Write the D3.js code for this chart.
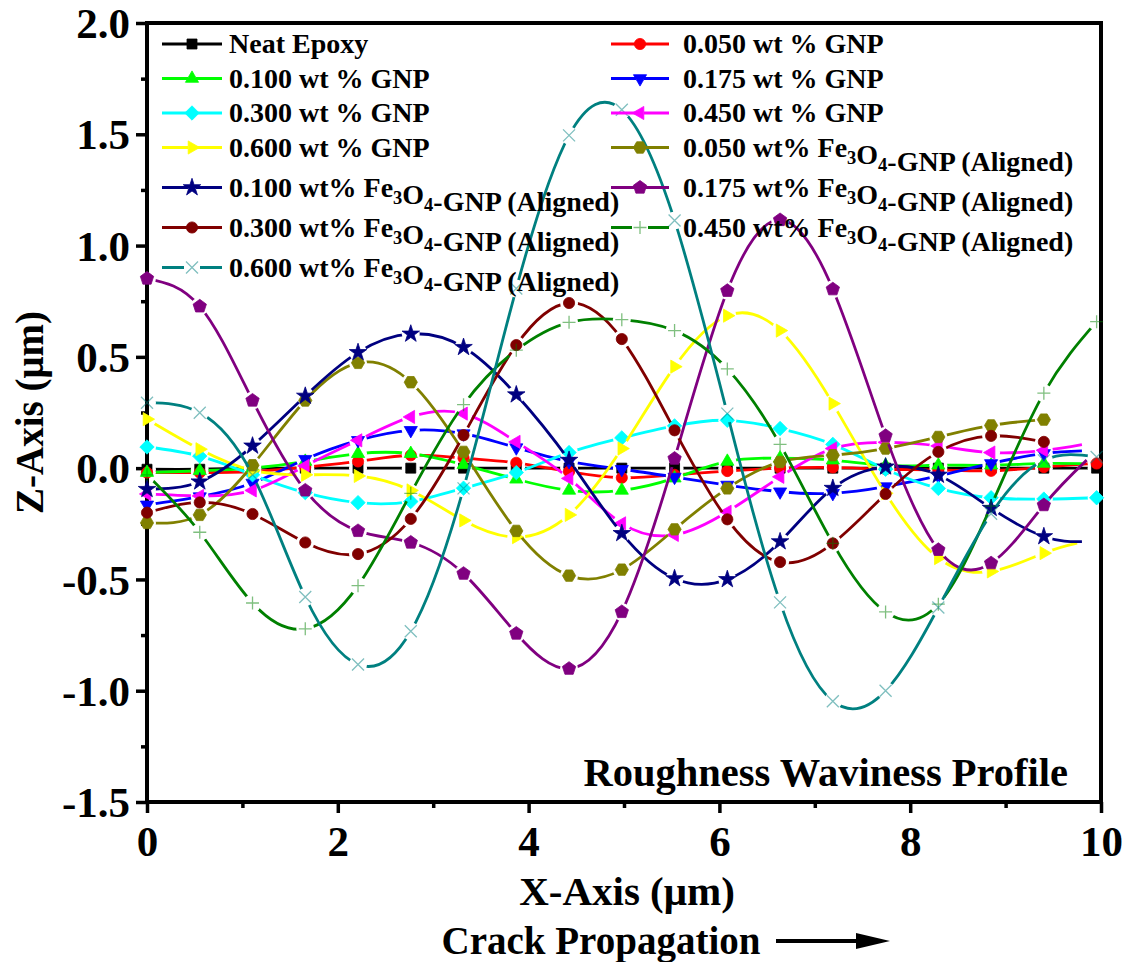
<!DOCTYPE html>
<html>
<head>
<meta charset="utf-8">
<script src="https://cdn.jsdelivr.net/npm/d3@7"></script>
<style>
  html, body { margin: 0; padding: 0; background: #fff; }
  svg { display: block; }
  text { font-family: "Liberation Serif", "Times New Roman", serif; font-weight: bold; fill: #000; }
</style>
</head>
<body>
<svg id="chart" width="1134" height="962"></svg>
<script>
// Sampling positions along the crack path (µm)
const xPositions = [0, 0.553, 1.106, 1.659, 2.212, 2.765, 3.318, 3.871, 4.424, 4.977,
                    5.53, 6.083, 6.636, 7.189, 7.742, 8.295, 8.848, 9.401, 9.954];

// Surface height Z (µm) at each sampling position
const neatEpoxy = [-0.005, -0.005, 0, 0, 0, 0, 0, 0, 0, 0, 0, 0, 0, 0, 0, 0, 0, 0, 0];
const gnp050 = [-0.02, -0.02, -0.015, 0.005, 0.03, 0.058, 0.045, 0.024, -0.016, -0.043,
                -0.03, -0.013, 0.0, 0.003, -0.005, -0.008, -0.012, 0.005, 0.021];
const gnp100 = [-0.02, -0.012, 0.0, 0.03, 0.065, 0.065, 0.015, -0.05, -0.1, -0.1,
                -0.045, 0.03, 0.045, 0.036, 0.012, 0.013, 0.013, 0.021];
const gnp175 = [-0.165, -0.128, -0.067, 0.04, 0.125, 0.17, 0.155, 0.092, 0.03, -0.005,
                -0.04, -0.076, -0.106, -0.113, -0.083, -0.035, 0.021, 0.066];
const gnp300 = [0.095, 0.054, -0.03, -0.11, -0.155, -0.15, -0.09, -0.02, 0.07, 0.136,
                0.19, 0.215, 0.178, 0.107, -0.005, -0.091, -0.133, -0.139, -0.133];
const gnp450 = [-0.116, -0.125, -0.1, 0.01, 0.125, 0.23, 0.245, 0.118, -0.046, -0.248,
                -0.3, -0.196, -0.039, 0.088, 0.116, 0.1, 0.07, 0.08];
const gnp600 = [0.22, 0.085, -0.01, -0.03, -0.035, -0.1, -0.235, -0.31, -0.21, 0.088,
                0.456, 0.685, 0.618, 0.29, -0.113, -0.404, -0.464, -0.382];
const feGnp050 = [-0.246, -0.21, 0.013, 0.304, 0.473, 0.386, 0.073, -0.282, -0.483, -0.456,
                  -0.275, -0.091, 0.028, 0.058, 0.088, 0.14, 0.192, 0.218];
const feGnp100 = [-0.095, -0.061, 0.1, 0.324, 0.52, 0.603, 0.543, 0.33, 0.036, -0.293,
                  -0.496, -0.5, -0.33, -0.09, 0.006, -0.031, -0.18, -0.307];
const feGnp175 = [0.852, 0.727, 0.304, -0.1, -0.282, -0.334, -0.474, -0.743, -0.901, -0.646,
                  0.043, 0.797, 1.115, 0.804, 0.145, -0.367, -0.427, -0.166];
const feGnp300 = [-0.2, -0.154, -0.206, -0.334, -0.386, -0.228, 0.148, 0.553, 0.742, 0.58,
                  0.17, -0.23, -0.422, -0.338, -0.116, 0.073, 0.145, 0.118];
const feGnp450 = [-0.03, -0.288, -0.606, -0.722, -0.528, -0.113, 0.285, 0.53, 0.655, 0.667,
                  0.618, 0.446, 0.107, -0.338, -0.646, -0.611, -0.17, 0.337, 0.658];
const feGnp600 = [0.294, 0.249, -0.03, -0.579, -0.882, -0.733, -0.091, 0.807, 1.495, 1.61,
                  1.113, 0.245, -0.603, -1.047, -1.0, -0.626, -0.205, 0.035, 0.05];

// Profiles continue a little past their last sampled point: [x, z]
const profileEnds = {
  gnp100: [9.8, 0.02],
  gnp175: [9.8, 0.078],
  gnp450: [9.8, 0.106],
  gnp600: [9.75, -0.337],
  feGnp100: [9.8, -0.33],
  feGnp175: [9.85, 0.036]
};

const seriesKeys = ["neatEpoxy", "gnp050", "gnp100", "gnp175", "gnp300", "gnp450", "gnp600",
                    "feGnp050", "feGnp100", "feGnp175", "feGnp300", "feGnp450", "feGnp600"];
const seriesValues = [neatEpoxy, gnp050, gnp100, gnp175, gnp300, gnp450, gnp600,
                      feGnp050, feGnp100, feGnp175, feGnp300, feGnp450, feGnp600];
const seriesLabels = ["Neat Epoxy", "0.050 wt % GNP", "0.100 wt % GNP", "0.175 wt % GNP",
                      "0.300 wt % GNP", "0.450 wt % GNP", "0.600 wt % GNP",
                      "0.050 wt% Fe_3O_4-GNP (Aligned)", "0.100 wt% Fe_3O_4-GNP (Aligned)",
                      "0.175 wt% Fe_3O_4-GNP (Aligned)", "0.300 wt% Fe_3O_4-GNP (Aligned)",
                      "0.450 wt% Fe_3O_4-GNP (Aligned)", "0.600 wt% Fe_3O_4-GNP (Aligned)"];
const seriesColors = ["#000000", "#ff0000", "#00ff00", "#0000ff", "#00ffff", "#ff00ff", "#ffff00",
                      "#808000", "#000080", "#800080", "#800000", "#008000", "#008080"];
const seriesSymbols = ["square", "circle", "triUp", "triDown", "diamond", "triLeft", "triRight",
                       "hexagon", "star", "pentagon", "circle", "plus", "cross"];

const xTicks = [0, 2, 4, 6, 8, 10];
const xMinorTicks = [1, 3, 5, 7, 9];
const yTicks = [-1.5, -1.0, -0.5, 0.0, 0.5, 1.0, 1.5, 2.0];
const yMinorTicks = [-1.25, -0.75, -0.25, 0.25, 0.75, 1.25, 1.75];

// ---------------------------------------------------------------
const svg = d3.select("#chart");
const W = 1134, H = 962;
const plot = { left: 147, right: 1101, top: 23, bottom: 802 };

const x = d3.scaleLinear().domain([0, 10]).range([plot.left, plot.right]);
const y = d3.scaleLinear().domain([-1.5, 2]).range([plot.bottom, plot.top]);

// Marker shapes
function polygon(n, r, rot) {
  const pts = d3.range(n).map(i => {
    const a = rot + i * 2 * Math.PI / n - Math.PI / 2;
    return [r * Math.cos(a), r * Math.sin(a)];
  });
  return "M" + pts.map(p => p[0].toFixed(2) + "," + p[1].toFixed(2)).join("L") + "Z";
}
const symbolPath = {
  square: `M-5,-5H5V5H-5Z`,
  circle: d3.symbol(d3.symbolCircle, Math.PI * 5.6 * 5.6)(),
  triUp: polygon(3, 7.6, 0),
  triDown: polygon(3, 7.6, Math.PI),
  triLeft: polygon(3, 7.6, -Math.PI / 2),
  triRight: polygon(3, 7.6, Math.PI / 2),
  diamond: polygon(4, 7.2, 0),
  hexagon: polygon(6, 6.6, Math.PI / 6),
  pentagon: polygon(5, 7.0, 0),
  star: d3.symbol(d3.symbolStar, 95)(),
  plus: "M-6.5,0H6.5M0,-6.5V6.5",
  cross: "M-6,-6L6,6M-6,6L6,-6"
};
const strokeSymbols = new Set(["plus", "cross"]);

function drawMarker(g, sym, color, cx, cy) {
  const p = g.append("path").attr("d", symbolPath[sym])
    .attr("transform", `translate(${cx},${cy})`);
  if (strokeSymbols.has(sym)) {
    p.attr("fill", "none").attr("stroke", color).attr("stroke-width", 1.3).attr("stroke-opacity", 0.5);
  } else {
    p.attr("fill", color).attr("stroke", color).attr("stroke-width", 0.8);
  }
}

// ---------------------------------------------------------------
// Axes and frame
const defs = svg.append("defs");
const fmtY = d => d3.format(".1f")(d).replace("\u2212", "-");

const yAxis = svg.append("g").attr("transform", `translate(${plot.left},0)`)
  .call(d3.axisLeft(y).tickValues(yTicks).tickSize(11).tickPadding(6).tickFormat(fmtY));
const yMinor = svg.append("g").attr("transform", `translate(${plot.left},0)`)
  .call(d3.axisLeft(y).tickValues(yMinorTicks).tickSize(6).tickFormat(""));
const xAxis = svg.append("g").attr("transform", `translate(0,${plot.bottom})`)
  .call(d3.axisBottom(x).tickValues(xTicks).tickSize(11).tickPadding(12)
        .tickFormat(d3.format("d")));
const xMinor = svg.append("g").attr("transform", `translate(0,${plot.bottom})`)
  .call(d3.axisBottom(x).tickValues(xMinorTicks).tickSize(6).tickFormat(""));

[yAxis, yMinor, xAxis, xMinor].forEach(g => {
  g.select(".domain").remove();
  g.selectAll(".tick line").attr("stroke", "#000").attr("stroke-width", 3.5);
  g.selectAll("text").attr("font-family", null).attr("font-size", 43).attr("fill", "#000");
});
yAxis.selectAll("text").attr("dy", "0.34em");

svg.append("rect")
  .attr("x", plot.left).attr("y", plot.top)
  .attr("width", plot.right - plot.left).attr("height", plot.bottom - plot.top)
  .attr("fill", "none").attr("stroke", "#000").attr("stroke-width", 4);

// Axis titles
svg.append("text")
  .attr("transform", `translate(43,${(plot.top + plot.bottom) / 2}) rotate(-90)`)
  .attr("text-anchor", "middle").attr("font-size", 39)
  .text("Z-Axis (μm)");
svg.append("text")
  .attr("x", 627).attr("y", 905).attr("text-anchor", "middle").attr("font-size", 41)
  .text("X-Axis (μm)");
svg.append("text")
  .attr("x", 601).attr("y", 954).attr("text-anchor", "middle").attr("font-size", 39)
  .text("Crack Propagation");
// direction arrow
svg.append("path")
  .attr("d", "M776,941H862")
  .attr("stroke", "#000").attr("stroke-width", 4).attr("fill", "none");
svg.append("path")
  .attr("d", "M856,933L890,941L856,949Z")
  .attr("fill", "#000");

svg.append("text")
  .attr("x", 1068).attr("y", 786).attr("text-anchor", "end").attr("font-size", 40.5)
  .text("Roughness Waviness Profile");

// ---------------------------------------------------------------
// Profiles
const line = d3.line().x(d => x(d[0])).y(d => y(d[1])).curve(d3.curveNatural);
const gapR = 9;

const dataG = svg.append("g");
seriesKeys.forEach((key, i) => {
  const vals = seriesValues[i];
  const pts = vals.map((v, j) => [xPositions[j], v]);
  const linePts = profileEnds[key] ? pts.concat([profileEnds[key]]) : pts;

  // Line is interrupted around each marker
  const mask = defs.append("mask").attr("id", "gap-" + key)
    .attr("maskUnits", "userSpaceOnUse")
    .attr("x", 0).attr("y", 0).attr("width", W).attr("height", H);
  mask.append("rect").attr("width", W).attr("height", H).attr("fill", "#fff");
  mask.selectAll("circle").data(pts).join("circle")
    .attr("cx", d => x(d[0])).attr("cy", d => y(d[1])).attr("r", gapR).attr("fill", "#000");

  const g = dataG.append("g");
  g.append("path").attr("d", line(linePts))
    .attr("fill", "none").attr("stroke", seriesColors[i]).attr("stroke-width", 2.8)
    .attr("mask", `url(#gap-${key})`);
  pts.forEach(d => drawMarker(g, seriesSymbols[i], seriesColors[i], x(d[0]), y(d[1])));
});

// ---------------------------------------------------------------
// Legend (two columns, row-wise)
const legendCols = [{ lineX0: 162, lineX1: 222, textX: 229 }, { lineX0: 611, lineX1: 669, textX: 683 }];
const legendRowY = [44, 78.5, 113, 147.5, 187.5, 227.5, 267.5];
const legend = svg.append("g");
seriesKeys.forEach((key, i) => {
  const col = legendCols[i % 2];
  const ry = legendRowY[Math.floor(i / 2)];
  const mx = (col.lineX0 + col.lineX1) / 2;
  const g = legend.append("g");
  const lgGap = strokeSymbols.has(seriesSymbols[i]) ? 8 : 4;
  g.append("path")
    .attr("d", `M${col.lineX0},${ry}H${mx - lgGap}M${mx + lgGap},${ry}H${col.lineX1}`)
    .attr("stroke", seriesColors[i]).attr("stroke-width", 2.8).attr("fill", "none");
  drawMarker(g, seriesSymbols[i], seriesColors[i], mx, ry);

  const t = g.append("text").attr("x", col.textX).attr("y", ry + 9).attr("font-size", 28);
  seriesLabels[i].split(/_(\d)/).forEach((part, k) => {
    if (!part) return;
    if (k % 2 === 1) {
      t.append("tspan").attr("font-size", 18.5).attr("dy", 7).text(part);
      t.append("tspan").attr("dy", -7).text("");
    } else {
      t.append("tspan").text(part);
    }
  });
});
</script>
</body>
</html>
